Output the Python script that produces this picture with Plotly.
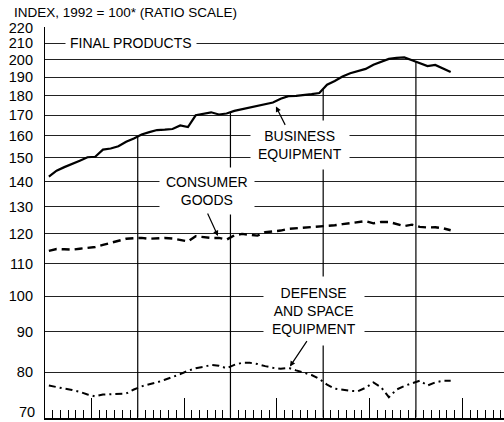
import numpy as np
import plotly.graph_objects as go

# Monthly index values (1992 = 100); 53 months
business_equipment = [
    142.0, 144.5, 146.0, 147.3, 148.8, 150.3, 150.5, 153.7, 154.2, 155.2,
    157.3, 158.8, 160.7, 161.8, 162.8, 163.0, 163.3, 165.0, 164.2, 170.0,
    170.9, 171.5, 170.4, 170.9, 172.2, 173.0, 173.8, 175.0, 175.6, 176.5,
    178.5, 179.8, 180.0, 180.3, 180.9, 181.5, 186.0, 188.0, 190.5, 192.3,
    193.6, 194.8, 197.2, 199.0, 200.6, 201.2, 201.5, 199.8, 198.0, 196.4,
    197.1, 195.2, 193.0]
consumer_goods = [
    114.2, 114.8, 114.7, 114.6, 114.9, 115.1, 115.5, 116.2, 116.9, 117.7,
    118.3, 118.5, 118.6, 118.3, 118.5, 118.6, 118.4, 117.9, 117.4, 119.2,
    118.9, 118.6, 118.6, 118.0, 119.5, 120.0, 119.7, 119.4, 120.6, 120.8,
    121.2, 121.8, 122.0, 122.1, 122.3, 122.5, 122.7, 123.1, 123.5, 123.9,
    124.3, 124.6, 123.8, 124.3, 124.3, 123.6, 122.8, 123.3, 122.5, 122.3,
    122.4, 122.0, 121.3]
defense_space = [
    76.9, 76.5, 76.2, 75.9, 75.5, 74.9, 74.5, 74.9, 75.0, 75.0,
    75.1, 76.0, 76.7, 77.2, 77.6, 78.2, 78.8, 79.5, 80.3, 80.9,
    81.2, 81.7, 81.5, 80.9, 81.7, 82.2, 82.2, 81.9, 81.4, 81.0,
    80.8, 81.0, 80.4, 79.9, 79.3, 78.4, 77.1, 76.2, 75.9, 75.7,
    75.6, 76.4, 77.6, 76.5, 74.3, 76.0, 76.8, 77.4, 78.0, 76.9,
    77.6, 78.0, 78.0]

y_ticks = [70, 80, 90, 100, 110, 120, 130, 140, 150, 160, 170, 180, 190, 200, 210, 220]
year_starts = [12, 24, 36, 48]     # month boundaries that get a drop line
mid_years = [6, 18, 30, 42, 54]    # longer tick marks
n_months_axis = 59.4

months = np.arange(len(business_equipment)) + 0.5

FONT = "Liberation Sans"
fig = go.Figure()

# drop lines from the business-equipment line at each year boundary
log_be = np.log10(business_equipment)
dx, dy = [], []
for b in year_starts:
    v = 10 ** np.interp(b, months, log_be)
    dx += [b, b, None]
    dy += [70, v, None]
fig.add_trace(go.Scatter(x=dx, y=dy, mode="lines", line=dict(color="black", width=1.2),
                         hoverinfo="skip", showlegend=False))

fig.add_trace(go.Scatter(x=months, y=business_equipment, mode="lines",
                         line=dict(color="black", width=2.2), showlegend=False))
fig.add_trace(go.Scatter(x=months, y=consumer_goods, mode="lines",
                         line=dict(color="black", width=2.4, dash="8px,5px"), showlegend=False))
fig.add_trace(go.Scatter(x=months, y=defense_space, mode="lines",
                         line=dict(color="black", width=2.0, dash="7px,4px,2px,4px"), showlegend=False))

def px_to_month(px):
    return (px - 45) / 7.73

def label(text, xpx, val, pad=6):
    fig.add_annotation(x=px_to_month(xpx), y=np.log10(val), xref="x", yref="y",
                       text=text, showarrow=False, bgcolor="white", borderpad=pad,
                       font=dict(family=FONT, size=14, color="black"), align="center")

def arrow(xpx, val, ax, ay):
    fig.add_annotation(x=px_to_month(xpx), y=np.log10(val), xref="x", yref="y",
                       text="", showarrow=True, ax=ax, ay=ay, arrowhead=2,
                       arrowsize=0.9, arrowwidth=1.2, arrowcolor="black")

label("FINAL PRODUCTS", 131, 210, pad=4)
label("BUSINESS<br>EQUIPMENT", 300, 155.7, pad=7)
label("CONSUMER<br>GOODS", 207, 136.1, pad=6)
label("DEFENSE<br>AND SPACE<br>EQUIPMENT", 314, 95.6, pad=8)
arrow(276, 174.5, 10, 20)
arrow(218, 119.3, -11, -24)
arrow(290, 81.3, 18, -27)

fig.add_annotation(x=-0.072, y=1.036, xref="paper", yref="paper", xanchor="left",
                   yanchor="middle", text="INDEX, 1992 = 100* (RATIO SCALE)", showarrow=False,
                   font=dict(family=FONT, size=13.5, color="black"))

# bottom tick label, nudged up so it stays inside the picture
tick_text = [str(t) for t in y_ticks]
tick_text[0] = ""
fig.add_annotation(x=-0.0174, y=-0.0102, xref="paper", yref="paper", xanchor="right",
                   yanchor="bottom", text=str(y_ticks[0]), showarrow=False,
                   font=dict(family=FONT, size=14.5, color="black"))

fig.update_layout(
    width=504, height=422,
    margin=dict(l=45, r=0, t=27, b=4, autoexpand=False),
    paper_bgcolor="white", plot_bgcolor="white",
    font=dict(family=FONT, color="black"),
    xaxis=dict(range=[0, n_months_axis], showgrid=False, zeroline=False, automargin=False,
               showline=True, linecolor="black", linewidth=1.5,
               tickmode="array", tickvals=mid_years, ticks="inside", ticklen=20,
               tickwidth=1, tickcolor="black", showticklabels=False,
               minor=dict(tickmode="array", tickvals=list(range(0, 60)), ticks="inside",
                          ticklen=8, tickwidth=1, tickcolor="black")),
    yaxis=dict(type="log", range=[np.log10(70) - 0.0006, np.log10(220) + 0.0006],
               automargin=False, ticklabeloverflow="allow",
               tickmode="array", tickvals=y_ticks, ticktext=tick_text,
               showgrid=True, gridcolor="#222", gridwidth=1.2, zeroline=False,
               showline=True, linecolor="black", linewidth=1.2,
               ticks="", ticklabelstandoff=8,
               tickfont=dict(family=FONT, size=14.5, color="black")),
)

fig.write_html("out.html", config={"displayModeBar": False},
               post_script="document.body.style.margin='0px';document.body.style.overflow='hidden';")
